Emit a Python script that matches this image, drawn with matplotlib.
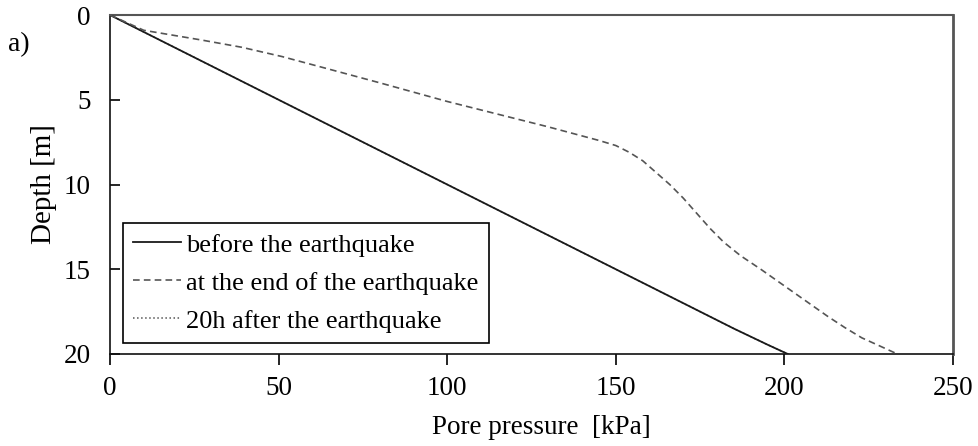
import numpy as np
import matplotlib.pyplot as plt

plt.rcParams['font.family'] = ['Liberation Serif', 'DejaVu Serif']

# before the earthquake (hydrostatic)
p_before = [0, 50, 100, 150, 185, 195, 201]
d_before = [0, 5, 10, 15, 18.5, 19.45, 20]

# at the end of the earthquake
p_end = [0, 10, 27, 39, 51, 66, 80, 90, 100, 115, 130, 145, 150, 154, 158,
         162, 166, 170, 174, 178, 182, 187, 193, 198, 203, 208, 213, 218,
         223, 228, 233.5]
d_end = [0, 0.9, 1.47, 1.9, 2.45, 3.25, 4.0, 4.55, 5.1, 5.85, 6.6, 7.4, 7.7,
         8.1, 8.6, 9.3, 10.0, 10.8, 11.7, 12.6, 13.4, 14.2, 15.0, 15.7, 16.4,
         17.1, 17.8, 18.45, 19.05, 19.5, 20]

# 20h after the earthquake (back to hydrostatic)
p_20h = [0, 50, 100, 150, 185, 195, 201]
d_20h = [0, 5, 10, 15, 18.5, 19.45, 20]

fig = plt.figure(figsize=(9.79, 4.46), dpi=100)
ax = fig.add_axes([0.1124, 0.2063, 0.861, 0.760])

ax.plot(p_20h, d_20h, ':', color='#555555', lw=1.1, label='20h after the earthquake', zorder=2)
ax.plot(p_before, d_before, '-', color='#1a1a1a', lw=1.3, label='before the earthquake', zorder=3)
ax.plot(p_end, d_end, '--', color='#555555', lw=1.2, dashes=(4, 2.5),
        label='at the end of the earthquake', zorder=3)

ax.set_xlim(0, 250)
ax.set_ylim(20, 0)
ax.set_xticks([0, 50, 100, 150, 200, 250])
ax.set_yticks([0, 5, 10, 15, 20])
ax.tick_params(axis='x', direction='out', length=8, width=1.2, labelsize=19.5, pad=8)
ax.tick_params(axis='y', direction='in', length=7, width=1.2, labelsize=19.5, pad=14)

for s in ['left', 'bottom']:
    ax.spines[s].set_color('#111111')
    ax.spines[s].set_linewidth(1.2)
ax.spines['top'].set_color('#555555')
ax.spines['top'].set_linewidth(1.5)
ax.spines['right'].set_color('#555555')
ax.spines['right'].set_linewidth(2.0)

ax.set_xlabel('Pore pressure  [kPa]', fontsize=19.5, labelpad=10)
ax.xaxis.label.set_x(0.512)
ax.set_ylabel('Depth [m]', fontsize=21, labelpad=5)

h, l = ax.get_legend_handles_labels()
order = [1, 2, 0]
leg = ax.legend([h[i] for i in order], [l[i] for i in order], loc='lower left',
                bbox_to_anchor=(0.015, 0.032), fontsize=19, handlelength=1.8,
                handletextpad=0.2, fancybox=False, framealpha=1,
                edgecolor='black', borderpad=0.4, labelspacing=0.55,
                borderaxespad=0)
leg.get_frame().set_linewidth(1.2)

fig.text(0.008, 0.885, 'a)', fontsize=20)

fig.savefig('out.png', dpi=100)
